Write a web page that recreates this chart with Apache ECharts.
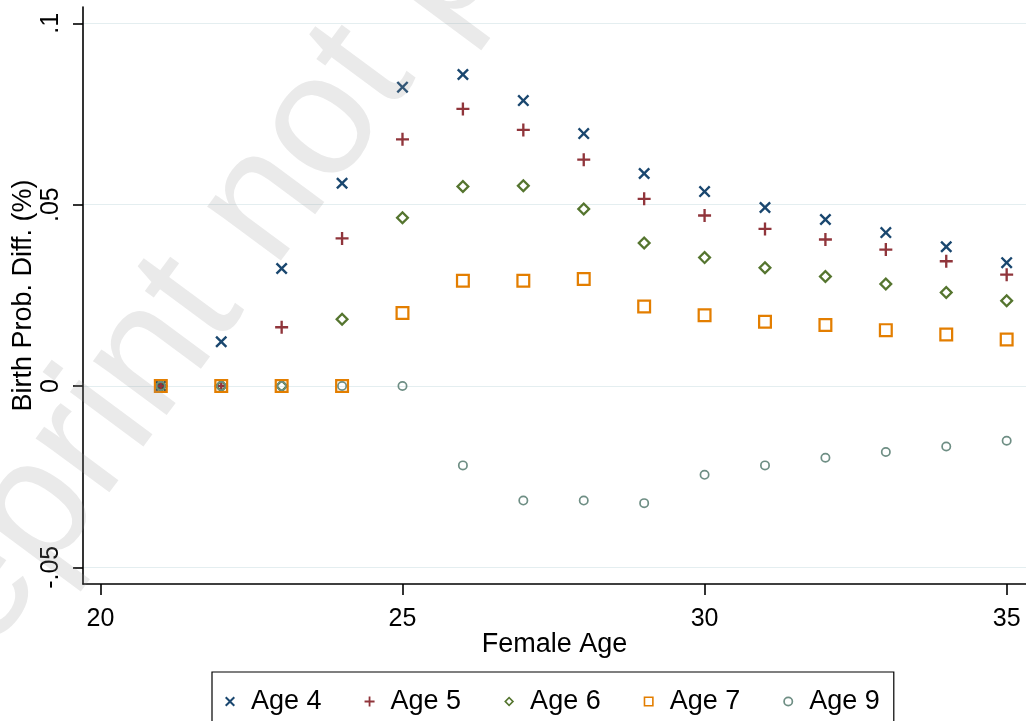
<!DOCTYPE html>
<html>
<head>
<meta charset="utf-8">
<script src="https://cdn.jsdelivr.net/npm/echarts@6/dist/echarts.min.js"></script>
<style>
    html, body { margin: 0; padding: 0; background: #fff; }
    #chart { width: 1026px; height: 721px; }
</style>
</head>
<body>
<div id="chart"></div>
<script>
// female age on the x axis
var ages = [21, 22, 23, 24, 25, 26, 27, 28, 29, 30, 31, 32, 33, 34, 35];
// birth probability differences per child age
var age4 = [0, 0.0122, 0.0324, 0.0559, 0.0824, 0.0859, 0.0787, 0.0696, 0.0586, 0.0536, 0.0492, 0.0459, 0.0423, 0.0384, 0.0340];
var age5 = [0, 0, 0.0162, 0.0407, 0.0680, 0.0764, 0.0706, 0.0624, 0.0516, 0.0470, 0.0433, 0.0404, 0.0376, 0.0344, 0.0307];
var age6 = [0, 0, 0, 0.0184, 0.0464, 0.0550, 0.0552, 0.0488, 0.0394, 0.0354, 0.0326, 0.0302, 0.0281, 0.0258, 0.0235];
var age7 = [0, 0, 0, 0, 0.0201, 0.0290, 0.0290, 0.0295, 0.0219, 0.0195, 0.0177, 0.0168, 0.0154, 0.0142, 0.0128];
var age9 = [0, 0, 0, 0, 0, -0.0219, -0.0316, -0.0316, -0.0323, -0.0245, -0.0219, -0.0198, -0.0182, -0.0167, -0.0151];
var seriesNames = ['Age 4', 'Age 5', 'Age 6', 'Age 7', 'Age 9'];
var xTicks = [20, 25, 30, 35];
var yTicks = [-0.05, 0, 0.05, 0.1];

var FONT = '"Liberation Sans", Arial, sans-serif';
var colors = ['#1a476f', '#90353b', '#55752f', '#e37e00', '#6e8e84'];
// hollow stata-like markers as filled paths
var symCross = 'path://M1.4,0L5,3.6L8.6,0L10,1.4L6.4,5L10,8.6L8.6,10L5,6.4L1.4,10L0,8.6L3.6,5L0,1.4Z';
var symPlus = 'path://M4.1,0H5.9V4.1H10V5.9H5.9V10H4.1V5.9H0V4.1H4.1Z';
var symDiamond = 'path://M5,0L10,5L5,10L0,5Z M5,2.3L2.3,5L5,7.7L7.7,5Z';
var symSquare = 'path://M0,0H10V10H0Z M1.6,1.6V8.4H8.4V1.6Z';
var symCircle = 'path://M0,5A5,5 0 1,0 10,5A5,5 0 1,0 0,5Z M1.7,5A3.3,3.3 0 1,1 8.3,5A3.3,3.3 0 1,1 1.7,5Z';
var symbols = [symCross, symPlus, symDiamond, symSquare, symCircle];
var sizes = [12, 13, 14, 14, 10];

function pairs(vals) {
    return ages.map(function (a, i) { return [a, vals[i]]; });
}
function yLabel(v) {
    if (v === 0) return '0';
    return String(+v.toFixed(2)).replace('0.', '.');
}

var allValues = [age4, age5, age6, age7, age9];
var series = seriesNames.map(function (name, i) {
    return {
        name: name,
        type: 'scatter',
        symbol: symbols[i],
        symbolSize: sizes[i],
        itemStyle: { color: colors[i], opacity: 1 },
        emphasis: { disabled: true },
        data: pairs(allValues[i])
    };
});

var chart = echarts.init(document.getElementById('chart'));
var option = {
    animation: false,
    backgroundColor: '#ffffff',
    textStyle: { fontFamily: FONT },
    grid: { left: 83, right: 0, top: 7, bottom: 137, containLabel: false, outerBoundsMode: 'none' },
    xAxis: {
        type: 'value',
        min: 19.712,
        max: 35.32,
        name: 'Female Age',
        nameLocation: 'middle',
        nameGap: 47,
        nameMoveOverlap: false,
        nameTextStyle: { fontSize: 27, color: '#000', fontFamily: FONT },
        axisLine: { show: true, onZero: false, lineStyle: { color: '#000', width: 1.6 } },
        axisTick: { show: true, length: 11, customValues: xTicks, lineStyle: { color: '#000', width: 1.6 } },
        axisLabel: { customValues: xTicks, fontSize: 25, color: '#000', margin: 23, fontFamily: FONT },
        splitLine: { show: false }
    },
    yAxis: {
        type: 'value',
        min: -0.0546,
        max: 0.1045,
        name: 'Birth Prob. Diff. (%)',
        nameLocation: 'middle',
        nameGap: 46,
        nameMoveOverlap: false,
        nameTextStyle: { fontSize: 27, color: '#000', fontFamily: FONT },
        axisLine: { show: true, onZero: false, lineStyle: { color: '#000', width: 1.6 } },
        axisTick: { show: true, length: 10, customValues: yTicks, lineStyle: { color: '#000', width: 1.6 } },
        axisLabel: { customValues: yTicks, rotate: 90, fontSize: 25, color: '#000', margin: 19, fontFamily: FONT, formatter: yLabel },
        splitLine: { show: true, lineStyle: { color: '#e4eef0', width: 1.2 } }
    },
    legend: {
        left: 212,
        top: 672,
        orient: 'horizontal',
        selectedMode: false,
        itemWidth: 32,
        itemHeight: 10,
        itemGap: 43,
        padding: [16, 14, 14, 13],
        borderColor: '#000',
        borderWidth: 1.2,
        textStyle: { fontSize: 27, color: '#000', fontFamily: FONT },
        data: seriesNames
    },
    // faint preprint watermark laid over the plot
    graphic: [{
        type: 'text',
        x: -142,
        y: 752,
        rotation: 53.5 * Math.PI / 180,
        z: 100,
        silent: true,
        style: {
            text: 'preprint not peer reviewed',
            fontSize: 173,
            fontFamily: 'Liberation Sans',
            fill: 'rgba(150,150,150,0.2)',
            align: 'left',
            verticalAlign: 'middle'
        }
    }],
    series: series
};
chart.setOption(option);
</script>
</body>
</html>
